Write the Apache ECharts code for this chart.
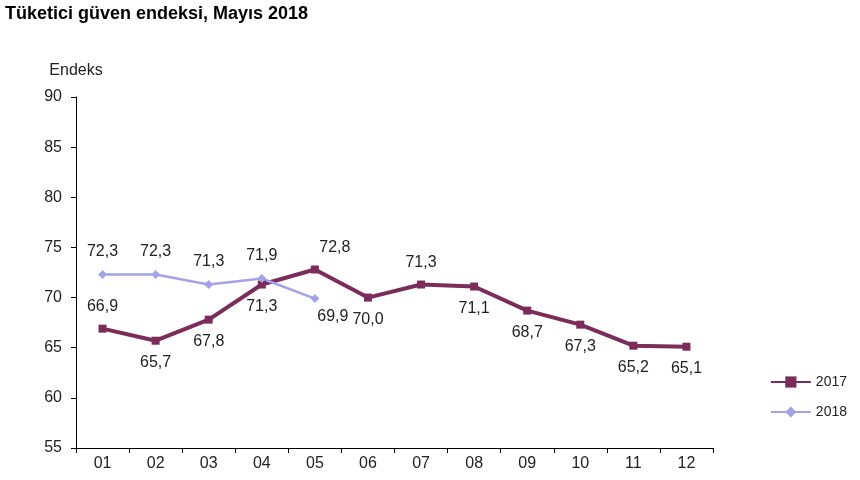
<!DOCTYPE html>
<html><head><meta charset="utf-8">
<script src="https://cdn.jsdelivr.net/npm/echarts@6/dist/echarts.min.js"></script>
<style>html,body{margin:0;background:#fff}#c{width:860px;height:480px}</style>
</head><body><div id="c"></div>
<script>
const categories=['01','02','03','04','05','06','07','08','09','10','11','12'];
const values2017=[66.9,65.7,67.8,71.3,72.8,70.0,71.3,71.1,68.7,67.3,65.2,65.1];
const values2018=[72.3,72.3,71.3,71.9,69.9];
const pos2017=['top','bottom','bottom','bottom','top','bottom','top','bottom','bottom','bottom','bottom','bottom'];
const pos2018=['top','top','top','top','bottom'];
const fmt=v=>v.toFixed(1).replace('.',',');
const lab={fontFamily:'Arial, Liberation Sans',fontSize:16,color:'#222',distance:10};
const chart=echarts.init(document.getElementById('c'));
chart.setOption({
  animation:false,
  title:{text:'Tüketici güven endeksi, Mayıs 2018',left:0,top:0,textStyle:{fontFamily:'Arial, Liberation Sans',fontSize:18,fontWeight:'bold',color:'#000'}},
  legend:{orient:'vertical',right:8,top:370,itemGap:16,itemWidth:40,textStyle:{fontFamily:'Arial, Liberation Sans',fontSize:14,color:'#222'},data:['2017','2018']},
  grid:{left:76,right:147,top:97,bottom:32},
  xAxis:{type:'category',data:categories,boundaryGap:true,axisLine:{lineStyle:{color:'#000'}},axisTick:{show:true,lineStyle:{color:'#000'}},axisLabel:{fontFamily:'Arial, Liberation Sans',fontSize:16,color:'#222'}},
  yAxis:{type:'value',min:55,max:90,interval:5,name:'Endeks',nameLocation:'end',nameGap:18,nameTextStyle:{fontFamily:'Arial, Liberation Sans',fontSize:16,color:'#222',align:'center'},
    axisLine:{show:true,lineStyle:{color:'#000'}},axisTick:{show:true,lineStyle:{color:'#000'}},splitLine:{show:false},axisLabel:{fontFamily:'Arial, Liberation Sans',fontSize:16,color:'#222',margin:14}},
  series:[
    {name:'2017',type:'line',data:values2017.map((v,i)=>({value:v,label:{position:pos2017[i],offset:i===4?[20,0]:[0,0]}})),symbol:'rect',symbolSize:8,
     lineStyle:{color:'#7B2C5A',width:4},itemStyle:{color:'#7B2C5A'},label:Object.assign({show:true,formatter:p=>fmt(p.value)},lab)},
    {name:'2018',type:'line',data:values2018.map((v,i)=>({value:v,label:{position:pos2018[i],offset:i===4?[18,-4]:[0,0]}})),symbol:'diamond',symbolSize:9,
     lineStyle:{color:'#A3A3E6',width:2.5},itemStyle:{color:'#A3A3E6'},label:Object.assign({show:true,formatter:p=>fmt(p.value)},lab)}
  ]
});
</script></body></html>
